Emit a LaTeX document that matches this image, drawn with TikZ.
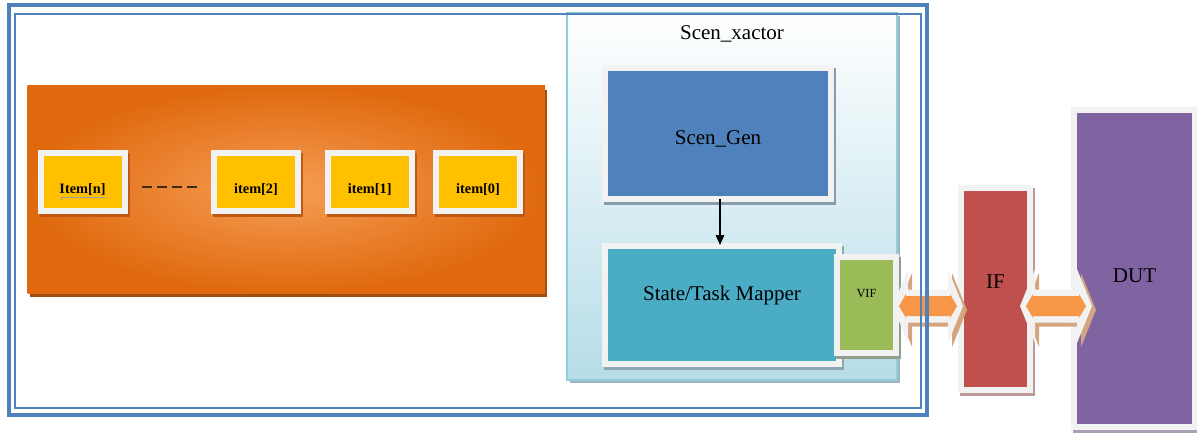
\documentclass[tikz,border=0pt]{standalone}
\usepackage{fontspec}
\setmainfont{Liberation Serif}
\usetikzlibrary{arrows.meta,calc}

\definecolor{framec}{HTML}{4F81BD}
\definecolor{orangeout}{HTML}{E0690E}
\definecolor{orangein}{HTML}{F59E55}
\definecolor{orangesh}{HTML}{A04C0C}
\definecolor{itemc}{HTML}{FFC000}
\definecolor{itemsh}{HTML}{BE5A16}
\definecolor{rim}{HTML}{F2F2F2}
\definecolor{genc}{HTML}{4F81BD}
\definecolor{mapc}{HTML}{4BACC6}
\definecolor{vifc}{HTML}{9BBB59}
\definecolor{ifc}{HTML}{C0504D}
\definecolor{dutc}{HTML}{8064A2}
\definecolor{xedge}{HTML}{92CDDC}
\definecolor{xbottom}{HTML}{B6DDE8}
\definecolor{xsh}{HTML}{A3B5BC}
\definecolor{bluesh}{HTML}{8799AC}
\definecolor{tealsh}{HTML}{8FA7B0}
\definecolor{greensh}{HTML}{909E8C}
\definecolor{redsh}{HTML}{BC9A98}
\definecolor{purplesh}{HTML}{ABA0B4}
\definecolor{arrowc}{HTML}{F79646}
\definecolor{arrowsh}{HTML}{D4A57F}
\definecolor{dashc}{HTML}{3B2B14}

\tikzset{
  block/.style={rectangle, draw=rim, line width=6pt, inner sep=0pt, text=black},
  castshadow/.style={preaction={draw=#1, fill=#1, line width=6pt,
      transform canvas={shift={(2pt,-3pt)}}}},
  itembox/.style={block, fill=itemc, castshadow=itemsh,
      minimum width=84pt, minimum height=58pt,
      font=\fontsize{14.3pt}{16pt}\selectfont\bfseries,
      text height=23pt, text depth=0pt},
  bigtext/.style={font=\fontsize{21pt}{24pt}\selectfont},
}

% one layer of a left-right block arrow between the points #2 and #3 at the height of #4
% #1 fill, #5 shift x, #6 shift y, #7 tip inset, #8 head length, #9 head half height
\newcommand\arrowlayer[9]{%
  \fill[#1] let \p1=(#2), \p2=(#3), \p3=(#4) in
    (\x1+#5+#7,\y3+#6)
    -- (\x1+#5+#7+#8,\y3+#6+#9) -- (\x1+#5+#7+#8,\y3+#6+\shafthalf)
    -- (\x2+#5-#7-#8,\y3+#6+\shafthalf) -- (\x2+#5-#7-#8,\y3+#6+#9)
    -- (\x2+#5-#7,\y3+#6)
    -- (\x2+#5-#7-#8,\y3+#6-#9) -- (\x2+#5-#7-#8,\y3+#6-\shafthalf)
    -- (\x1+#5+#7+#8,\y3+#6-\shafthalf) -- (\x1+#5+#7+#8,\y3+#6-#9)
    -- cycle;}
\newcommand\shafthalf{16.5pt}
\newcommand\busarrow[3]{%
  \renewcommand\shafthalf{16.5pt}%
  \arrowlayer{arrowsh}{#1}{#2}{#3}{4pt}{-4pt}{0pt}{15pt}{37pt}%
  \arrowlayer{rim}{#1}{#2}{#3}{0pt}{0pt}{0pt}{15pt}{37pt}%
  \renewcommand\shafthalf{10pt}%
  \arrowlayer{arrowc}{#1}{#2}{#3}{0pt}{0pt}{6pt}{7pt}{12pt}}

\begin{document}
\begin{tikzpicture}[x=1pt, y=-1pt]
\useasboundingbox (0,0) rectangle (1197,433);
\fill[white] (0,0) rectangle (1197,433);

% item queue
\node[rectangle, inner sep=0pt, minimum width=517.5pt, minimum height=207pt,
      inner color=orangein, outer color=orangeout,
      preaction={fill=orangesh, transform canvas={shift={(2pt,-4pt)}}}]
  (queue) at (286.25,189.5) {};
\node[itembox] (itn) at (82.5,182) {Item[n]};
\node[itembox] (it2) at (256,182) {item[2]};
\node[itembox] (it1) at (369.7,182) {item[1]};
\node[itembox] (it0) at (478,182) {item[0]};
\draw[gray!75, line width=0.7pt] ($(itn.center)+(-21.5,17.5)$) -- ++(0,-2) -- ++(45,0);
\draw[dashc, line width=2pt, dash pattern=on 10pt off 5pt]
  ([shift={(14.5pt,-5pt)}]itn.east) -- ([shift={(-11pt,-5pt)}]it2.west);

% scenario transactor
\node[rectangle, inner sep=0pt, minimum width=330pt, minimum height=367pt,
      draw=xedge, line width=1.2pt, top color=white, bottom color=xbottom,
      preaction={fill=xsh, transform canvas={shift={(3pt,-3pt)}}}]
  (xact) at (732,196.5) {};
\node[bigtext, anchor=base, inner sep=0pt] (xtitle) at (732,39.3) {Scen\_xactor};

\node[block, fill=genc, castshadow=bluesh, bigtext,
      minimum width=226pt, minimum height=131pt, text height=23pt, text depth=0pt]
  (gen) at (718,133.5) {Scen\_Gen};
\node[block, fill=mapc, castshadow=tealsh, bigtext,
      minimum width=234pt, minimum height=118pt, text height=0pt, text depth=10pt]
  (map) at (722,305) {State/Task Mapper};
\node[block, fill=vifc, castshadow=greensh, font=\fontsize{12.4pt}{14pt}\selectfont,
      minimum width=59pt, minimum height=96pt, text height=0pt, text depth=16pt]
  (vif) at (866.5,305) {VIF};

\coordinate (gtap) at ([xshift=2pt]gen.south);
\draw[line width=1.3pt, shorten <=-3pt, shorten >=-2pt,
      -{Triangle[width=8.5pt,length=10pt]}] (gtap) -- (gtap |- map.north);

% interface and design under test
\node[block, fill=ifc, castshadow=redsh, bigtext,
      minimum width=69pt, minimum height=202pt, text height=0pt, text depth=2pt]
  (ifb) at (995.5,289) {IF};
\node[block, fill=dutc, castshadow=purplesh, bigtext,
      minimum width=121pt, minimum height=317pt, text height=27pt, text depth=0pt]
  (dut) at (1134.5,268.5) {DUT};

% bus arrows
\coordinate (ay) at ([yshift=-1pt]vif.east);
\coordinate (a1l) at ([xshift=-6pt]vif.east);
\coordinate (a1r) at ([xshift=5pt]ifb.west);
\coordinate (a2l) at ([xshift=-13pt]ifb.east);
\coordinate (a2r) at ([xshift=21pt]dut.west);
\busarrow{a1l}{a1r}{ay}
\busarrow{a2l}{a2r}{ay}

% testbench frame
\draw[framec, line width=4pt] (8.5,5.5) rectangle (926.5,414.5);
\draw[framec, line width=2pt] (15,14) rectangle (921,408);
\end{tikzpicture}
\end{document}
